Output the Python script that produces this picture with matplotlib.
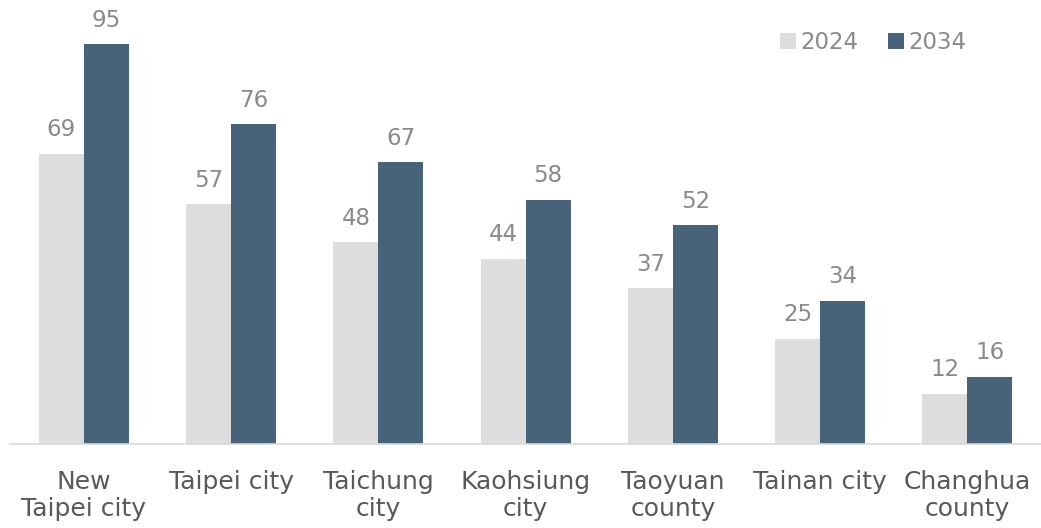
import numpy as np
import matplotlib.pyplot as plt

categories = ['New\nTaipei city', 'Taipei city', 'Taichung\ncity', 'Kaohsiung\ncity',
              'Taoyuan\ncounty', 'Tainan city', 'Changhua\ncounty']
vals_2024 = [69, 57, 48, 44, 37, 25, 12]
vals_2034 = [95, 76, 67, 58, 52, 34, 16]

plt.rcParams['font.family'] = ['DejaVu Sans']

fig = plt.figure(figsize=(10.41, 5.28), dpi=100)
ax = fig.add_axes([0.0098, 0.159, 0.9902, 0.797])

x = np.arange(len(categories))
w = 0.305
b1 = ax.bar(x - w / 2, vals_2024, w, color='#dddddd', label='2024')
b2 = ax.bar(x + w / 2, vals_2034, w, color='#46637a', label='2034')

for bars in (b1, b2):
    ax.bar_label(bars, padding=9, fontsize=16.5, color='#8a8a8a')

ax.set_xlim(-0.5, len(categories) - 0.5)
ax.set_ylim(0, 100)
ax.set_yticks([])
ax.set_xticks(x)
ax.set_xticklabels(categories, fontsize=18, color='#595959', linespacing=1.15)
ax.tick_params(axis='x', length=0, pad=19)
for s in ['top', 'right', 'left']:
    ax.spines[s].set_visible(False)
ax.spines['bottom'].set_color('#d9d9d9')
ax.spines['bottom'].set_linewidth(1.2)

leg = ax.legend(loc='upper right', bbox_to_anchor=(0.948, 1.03), ncol=2, frameon=False,
                fontsize=16.5, handlelength=0.7, handleheight=0.7, handletextpad=0.2,
                columnspacing=1.3)
for t in leg.get_texts():
    t.set_color('#8a8a8a')

fig.savefig('out.png', dpi=100)
